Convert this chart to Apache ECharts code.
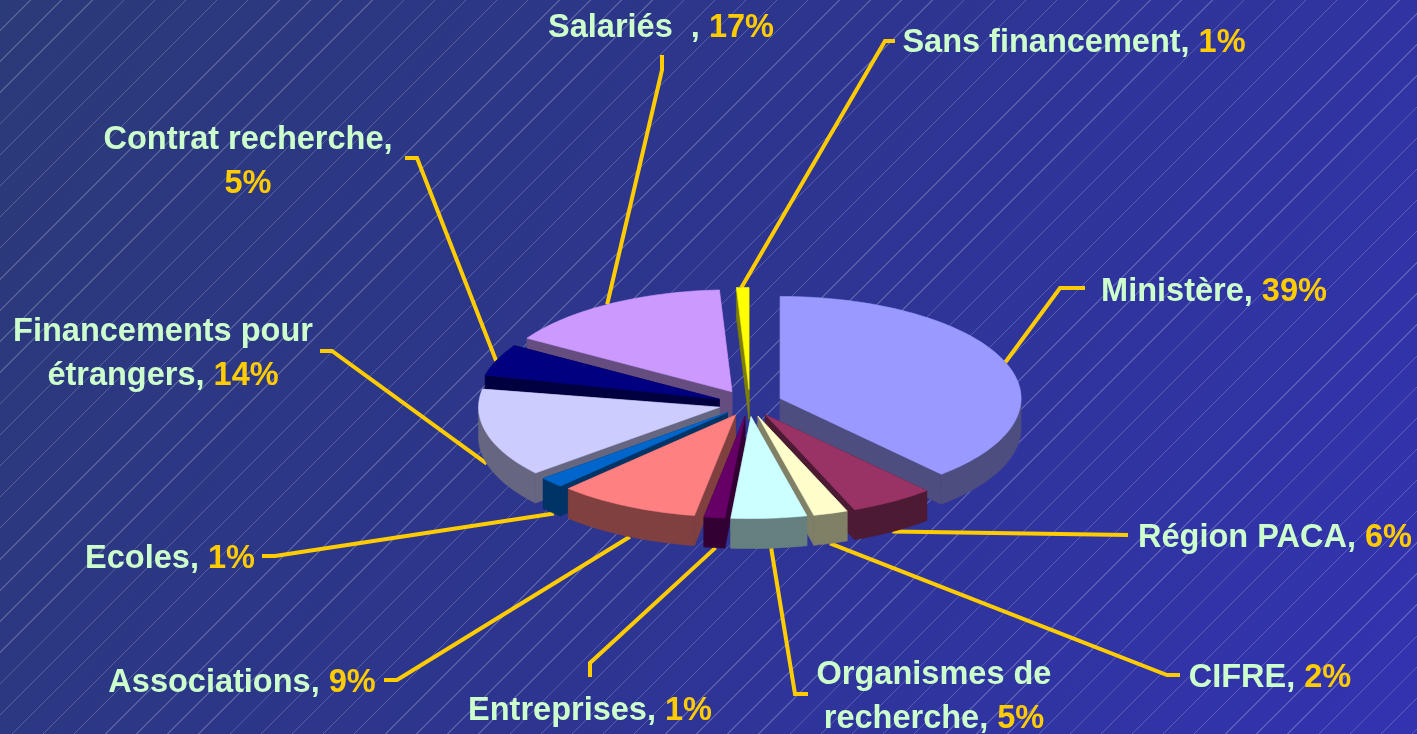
<!DOCTYPE html>
<html><head><meta charset="utf-8">
<style>
html,body{margin:0;padding:0;width:1417px;height:734px;overflow:hidden}
body{position:relative;background:linear-gradient(118deg,#2b3a78 0%,#2d3590 50%,#3333b0 100%)}
#hatch{position:absolute;inset:0;background:repeating-linear-gradient(135deg,rgba(255,255,255,0) 0,rgba(255,255,255,0) 21px,rgba(255,255,255,.2) 21px,rgba(255,255,255,.2) 22px)}
#c{position:absolute;left:0;top:0;width:1417px;height:734px}
</style>
<script src="https://cdn.jsdelivr.net/npm/echarts@6/dist/echarts.min.js"></script>
</head><body><div id="hatch"></div><div id="c"></div>
<script>
// Data
const categories = ['Ministère','Région PACA','CIFRE','Organismes de\nrecherche','Entreprises','Associations','Ecoles','Financements pour\nétrangers','Contrat recherche,\n','Salariés  ','Sans financement'];
const shares = [39,6,2,5,1,9,1,14,5,17,1];
const topColors = ['#9999ff','#993366','#ffffcc','#ccffff','#660066','#ff8080','#0066cc','#ccccff','#000080','#cc99ff','#ffff00'];
const wallColors = ['#4d4d80','#4d1a33','#808066','#668080','#330033','#804040','#003366','#666680','#000040','#664d80','#808000'];

// Layout
const centre = [750,403], radiusX = 241, radiusY = 102, depth = 30, explode = 32;
// view-induced shift (degrees) of each slice's start and end, from the oblique projection of the pie
const startWarp = [0,-2.4,-3.7,-2.6,-2.4,-1,0.7,3,6.5,6.5,0.6];
const endWarp = [-2.4,-3.7,-2.6,-2.4,-1,0.7,3,3,6.5,0.6,0];
// label centre x, first line middle y
const labelPos = [[1214,292],[1275,538],[1270,678],[934,675],[590,711],[242,683],[170,559],[163,332],[248,140],[661,28],[1074,43]];
// elbow points of the leader, from the chart outwards, and an angle shift of the rim anchor
const leaderElbows = [
 [[1060,288],[1085,288]], [[1128,535]], [[1167,675],[1180,675]], [[795,694],[808,694]],
 [[590,663],[590,677]], [[397,680],[384,680]], [[275,556],[262,556]], [[332,351],[320,351]],
 [[417,158],[405,158]], [[662,70],[662,55]], [[885,41],[895,41]]
];
const anchorShift = [-1,-3,-3,-3,-2,-1,1,3,6,3,0];

const total = shares.reduce((a,b)=>a+b,0);
const rad = d => d*Math.PI/180;
let acc = 0;
const slices = shares.map((s,i)=>{
  const n0 = acc/total*360; acc += s; const n1 = acc/total*360; const b = (n0+n1)/2;
  const k = radiusY/radiusX;
  const o = [centre[0]+explode*Math.sin(rad(b)), centre[1]-explode*k*Math.cos(rad(b))];
  return {a0:n0+startWarp[i],a1:n1+endWarp[i],b,o};
});
const order = slices.map((s,i)=>[-Math.cos(rad(s.b)),i]).sort((p,q)=>p[0]-q[0]).map(p=>p[1]);
const rim = (o,a) => [o[0]+radiusX*Math.sin(rad(a)), o[1]-radiusY*Math.cos(rad(a))];

function renderSlice(params, api){
  const i = params.dataIndex, s = slices[i], o = s.o;
  const base = order.indexOf(i)*10;
  const arc = (from,to)=>{const n=Math.max(2,Math.ceil((to-from)/2)),p=[];for(let j=0;j<=n;j++)p.push(rim(o,from+(to-from)*j/n));return p;};
  const down = p => [p[0],p[1]+depth];
  const poly = (pts,c,z)=>({type:'polygon',z2:base+z,shape:{points:pts},style:{fill:c,stroke:c,lineWidth:.6}});
  const children = [];
  const radial = a => { const p = rim(o,a); children.push(poly([o,p,down(p),down(o)],wallColors[i],0)); };
  radial(s.a0); radial(s.a1);
  const f0 = Math.max(s.a0,90), f1 = Math.min(s.a1,270);
  if (f1>f0){ const t = arc(f0,f1); children.push(poly(t.concat(t.map(down).reverse()),wallColors[i],1)); }
  children.push(poly([o].concat(arc(s.a0,s.a1)),topColors[i],2));
  return {type:'group',children};
}
function renderLabel(params, api){
  const i = params.dataIndex, s = slices[i];
  const a = s.b + anchorShift[i];
  let p = rim(s.o,a);
  if (a>90 && a<270) p = [p[0],p[1]+depth];
  const pts = [p].concat(leaderElbows[i]);
  const name = categories[i].replace(/,?\n$/,'');
  const val = api.value(0)+'%';
  let text;
  if (categories[i].endsWith(',\n')) text = '{n|'+name+',}\n{v|'+val+'}';
  else if (name.includes('\n')) { const l = name.split('\n'); text = '{n|'+l[0]+'}\n{n|'+l[1]+', }{v|'+val+'}'; }
  else text = '{n|'+name+', }{v|'+val+'}';
  const font = {fontFamily:'Liberation Sans',fontWeight:'bold',fontSize:32.5,lineHeight:44};
  return {type:'group',children:[
    {type:'polyline',z2:500,shape:{points:pts},style:{fill:'none',stroke:'#ffcc00',lineWidth:4}},
    {type:'text',z2:501,x:labelPos[i][0],y:labelPos[i][1]-22,style:{text,align:'center',verticalAlign:'top',
      rich:{n:Object.assign({fill:'#ccffcc'},font),v:Object.assign({fill:'#ffcc00'},font)}}}
  ]};
}
const data = shares.map((v,i)=>({name:categories[i],value:[v]}));
const chart = echarts.init(document.getElementById('c'),null,{renderer:'canvas',width:1417,height:734});
chart.setOption({
  backgroundColor:'transparent',animation:false,
  series:[
    {type:'custom',coordinateSystem:'none',renderItem:renderSlice,data,silent:true,z:2},
    {type:'custom',coordinateSystem:'none',renderItem:renderLabel,data,silent:true,z:1}
  ]
});
</script></body></html>
